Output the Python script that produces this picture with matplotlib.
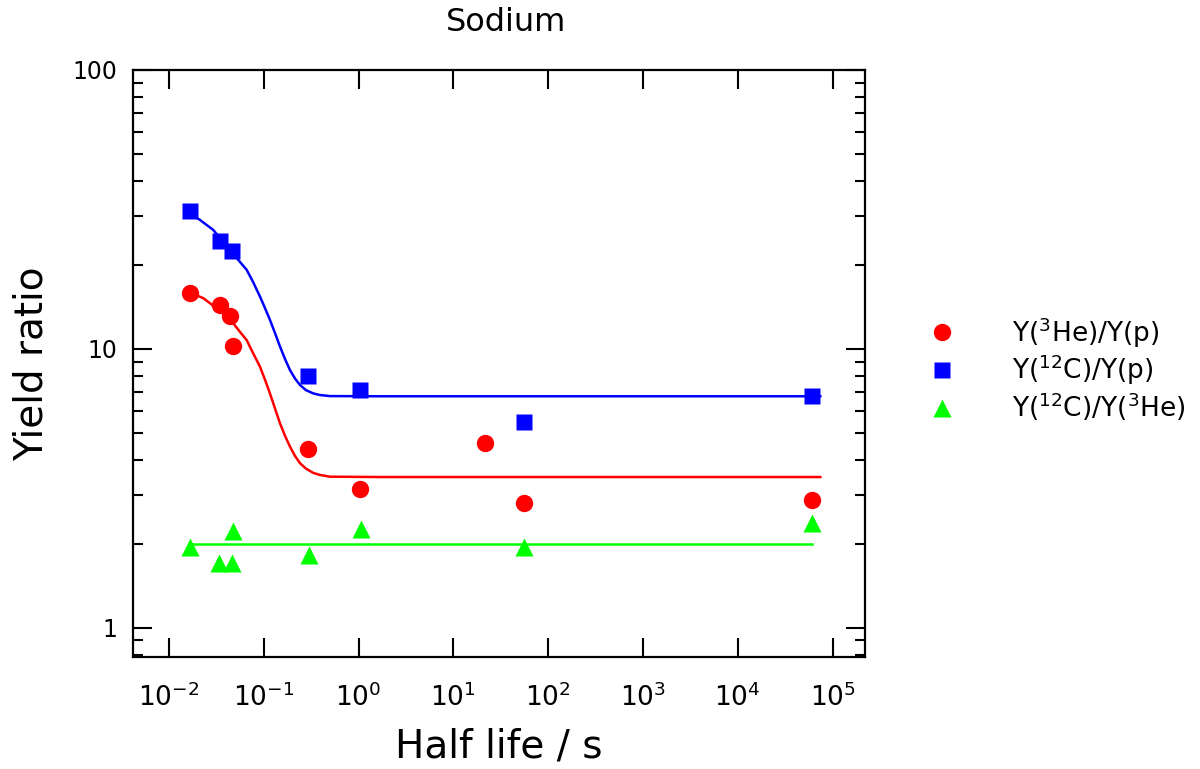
import numpy as np
import matplotlib
matplotlib.use("Agg")
import matplotlib.pyplot as plt
from matplotlib.ticker import FixedLocator, FixedFormatter, NullLocator, LogLocator

plt.rcParams["font.family"] = ["DejaVu Sans"]
plt.rcParams["mathtext.fontset"] = "dejavusans"

# measured points
he3_x = [0.0167, 0.0345, 0.0440, 0.0473, 0.292, 1.04, 21.5, 55.6, 61000]
he3_y = [15.9, 14.4, 13.1, 10.2, 4.37, 3.14, 4.58, 2.79, 2.87]

c12_x = [0.0167, 0.0345, 0.0459, 0.292, 1.04, 55.6, 61000]
c12_y = [31.3, 24.4, 22.5, 7.99, 7.12, 5.48, 6.77]

ratio_x = [0.0167, 0.0337, 0.0459, 0.0477, 0.298, 1.05, 55.6, 61000]
ratio_y = [1.95, 1.70, 1.70, 2.23, 1.82, 2.26, 1.95, 2.37]

# fit curves
fit_c12_x = [0.0167, 0.0212, 0.0293, 0.0440, 0.0522, 0.0660, 0.0769, 0.0912,
             0.1030, 0.1162, 0.1312, 0.1482, 0.1674, 0.189, 0.2134, 0.241,
             0.2787, 0.333, 0.3916, 0.499, 1.68, 74300]
fit_c12_y = [30.6, 29.0, 26.7, 22.6, 21.1, 19.2, 17.4, 15.4,
             14.0, 12.7, 11.4, 10.2, 9.2, 8.39, 7.83, 7.42,
             7.11, 6.92, 6.83, 6.77, 6.76, 6.76]

fit_he3_x = [0.0167, 0.0230, 0.0319, 0.0390, 0.0477, 0.0561, 0.0660, 0.0769,
             0.0912, 0.1030, 0.1162, 0.1312, 0.1482, 0.1674, 0.189, 0.2134,
             0.241, 0.2787, 0.333, 0.3916, 0.499, 1.68, 74300]
fit_he3_y = [15.9, 15.2, 13.97, 13.2, 12.35, 11.5, 10.75, 9.67,
             8.63, 7.75, 6.92, 6.12, 5.41, 4.88, 4.46, 4.13,
             3.89, 3.72, 3.59, 3.53, 3.48, 3.47, 3.47]

fit_ratio_x = [0.0167, 61000]
fit_ratio_y = [2.0, 2.0]

xticks = [1e-2, 1e-1, 1e0, 1e1, 1e2, 1e3, 1e4, 1e5]
xticklabels = [r"$10^{-2}$", r"$10^{-1}$", r"$10^{0}$", r"$10^{1}$",
               r"$10^{2}$", r"$10^{3}$", r"$10^{4}$", r"$10^{5}$"]
yticks = [1, 10, 100]
yticklabels = ["1", "10", "100"]

RED, BLUE, GREEN = "#ff0000", "#0000ff", "#00ff00"

fig = plt.figure(figsize=(12, 7.69), dpi=100)
ax = fig.add_axes([0.1108, 0.1456, 0.6100, 0.7634])

ax.plot(fit_he3_x, fit_he3_y, color=RED, lw=1.8)
ax.plot(fit_c12_x, fit_c12_y, color=BLUE, lw=1.8)
ax.plot(fit_ratio_x, fit_ratio_y, color=GREEN, lw=1.8)

ax.plot(he3_x, he3_y, "o", color=RED, ms=12.5, mec="none",
        label=r"Y($^{3}$He)/Y(p)")
ax.plot(c12_x, c12_y, "s", color=BLUE, ms=11.5, mec="none",
        label=r"Y($^{12}$C)/Y(p)")
ax.plot(ratio_x, ratio_y, "^", color=GREEN, ms=13, mec="none",
        label=r"Y($^{12}$C)/Y($^{3}$He)")

ax.set_xscale("log")
ax.set_yscale("log")
ax.set_xlim(10 ** -2.38, 10 ** 5.342)
ax.set_ylim(0.785, 100)

ax.xaxis.set_major_locator(FixedLocator(xticks))
ax.xaxis.set_major_formatter(FixedFormatter(xticklabels))
ax.xaxis.set_minor_locator(NullLocator())
ax.yaxis.set_major_locator(FixedLocator(yticks))
ax.yaxis.set_major_formatter(FixedFormatter(yticklabels))
ax.yaxis.set_minor_locator(LogLocator(base=10, subs=np.arange(2, 10)))

for s in ax.spines.values():
    s.set_linewidth(1.6)
ax.tick_params(which="both", direction="in", top=True, right=True, width=1.5)
ax.tick_params(which="major", length=13.5)
ax.tick_params(which="minor", length=7)
ax.tick_params(axis="x", which="major", labelsize=19, pad=19)
ax.tick_params(axis="y", which="major", labelsize=17, pad=11)

ax.set_xlabel("Half life / s", fontsize=28, labelpad=11)
ax.set_ylabel("Yield ratio", fontsize=28, labelpad=16)
ax.set_title("Sodium", fontsize=23, pad=28, x=0.51)

ax.legend(loc="center left", bbox_to_anchor=(0.774, 0.520), bbox_transform=fig.transFigure,
          frameon=False, fontsize=19, handlelength=1.0, handletextpad=2.15,
          labelspacing=0.12, borderpad=0, borderaxespad=0)

fig.savefig("out.png", dpi=100)
